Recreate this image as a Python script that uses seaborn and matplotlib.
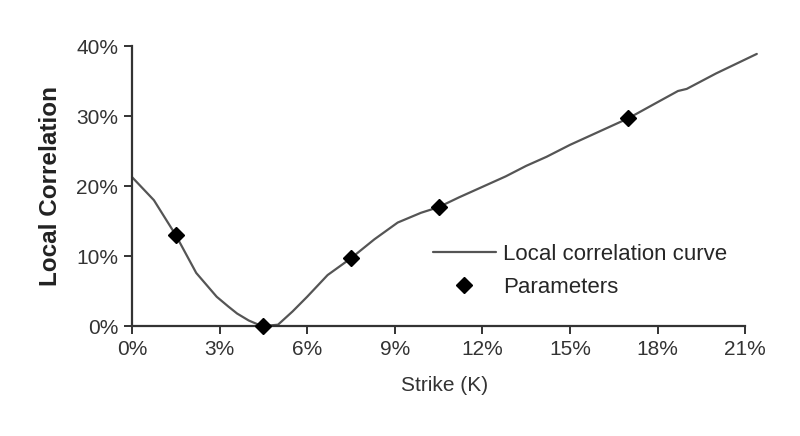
import numpy as np
import pandas as pd
import matplotlib
matplotlib.use("Agg")
import matplotlib.pyplot as plt
import seaborn as sns
from matplotlib.ticker import PercentFormatter

# curve (strike, local correlation), in %
curve_strike = [0.0, 0.75, 1.5, 2.2, 2.9, 3.3, 3.6, 4.0, 4.45, 5.0, 5.5, 6.0, 6.7, 7.5,
                8.3, 9.1, 9.9, 10.5, 11.2, 12.0, 12.8, 13.5, 14.2, 15.0, 16.0, 17.0,
                18.0, 18.7, 19.0, 20.0, 21.4]
curve_corr = [21.3, 18.0, 13.0, 7.6, 4.2, 2.8, 1.8, 0.8, 0.0, 0.2, 2.1, 4.2, 7.3, 9.7,
              12.4, 14.8, 16.2, 17.0, 18.4, 19.9, 21.4, 22.9, 24.2, 25.9, 27.8, 29.7,
              32.0, 33.6, 33.9, 36.1, 38.9]

param_strike = [1.5, 4.5, 7.5, 10.5, 17.0]
param_corr = [13.0, 0.0, 9.7, 17.0, 29.8]

x_ticks = [0, 3, 6, 9, 12, 15, 18, 21]
y_ticks = [0, 10, 20, 30, 40]

curve = pd.DataFrame({"strike": curve_strike, "corr": curve_corr})
params = pd.DataFrame({"strike": param_strike, "corr": param_corr})

sns.set_style("ticks")
plt.rcParams["font.family"] = ["Liberation Sans", "DejaVu Sans"]

fig = plt.figure(figsize=(8, 4.36), dpi=100)
ax = fig.add_axes([0.165, 0.252, 0.781, 0.642])

sns.lineplot(data=curve, x="strike", y="corr", ax=ax, color="#555555", linewidth=1.6,
             label="Local correlation curve", clip_on=False)
ax.plot(params["strike"], params["corr"], linestyle="none", marker="D", markersize=8,
        color="black", clip_on=False, zorder=5, label="Parameters")

ax.set_xlim(0, 21.4)
ax.set_ylim(0, 40)
ax.set_xticks(x_ticks)
ax.set_yticks(y_ticks)
ax.xaxis.set_major_formatter(PercentFormatter(decimals=0))
ax.yaxis.set_major_formatter(PercentFormatter(decimals=0))
ax.spines["top"].set_visible(False)
ax.spines["right"].set_visible(False)
ax.spines["bottom"].set_bounds(0, 21)
for s in ("left", "bottom"):
    ax.spines[s].set_linewidth(1.6)
    ax.spines[s].set_color("#333333")
ax.tick_params(axis="both", direction="out", length=6, width=1.4, color="#333333",
               labelsize=15, labelcolor="#333333", pad=4)

ax.set_xlabel("Strike (K)", fontsize=15, color="#333333", labelpad=12)
ax.set_ylabel("Local Correlation", fontsize=17.5, fontweight="bold", color="#222222", labelpad=10)

ax.legend(loc="lower right", bbox_to_anchor=(0.985, 0.03), frameon=False, fontsize=16,
          handlelength=2.8, labelspacing=0.55, handletextpad=0.35)

fig.savefig("out.png", dpi=100)
